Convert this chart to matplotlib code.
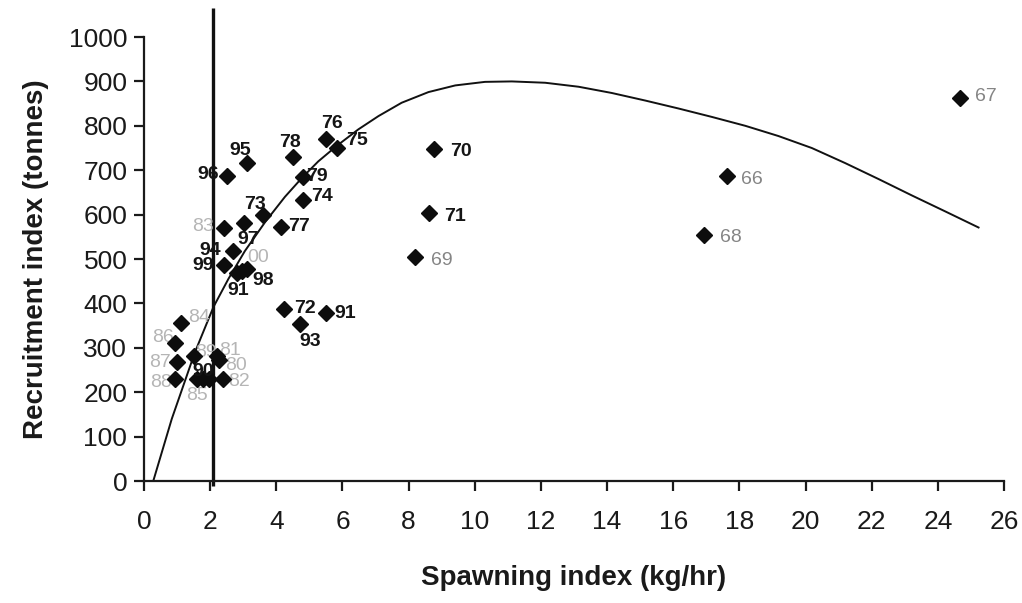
import matplotlib
matplotlib.use("Agg")
import matplotlib.pyplot as plt

plt.rcParams['font.family'] = ['Liberation Sans', 'DejaVu Sans']

# ---- data ----
spawning = [24.68, 17.62, 16.92, 8.78, 8.61, 8.20, 5.50, 5.83, 4.49, 3.10,
            2.52, 4.80, 4.80, 3.61, 4.14, 3.02, 2.42, 2.70, 2.42, 3.10,
            2.95, 2.80, 4.23, 5.50, 4.72, 1.11, 0.94, 0.99, 0.94, 1.52,
            2.22, 2.27, 1.59, 1.79, 1.98, 2.38]
recruit = [863, 686, 555, 747, 603, 504, 770, 751, 729, 717,
           687, 684, 634, 599, 573, 581, 569, 519, 486, 478,
           472, 468, 387, 378, 354, 355, 310, 267, 229, 281,
           281, 272, 229, 229, 229, 229]
year_labels = ['67', '66', '68', '70', '71', '69', '76', '75', '78', '95',
               '96', '79', '74', '73', '77', '97', '83', '94', '99', '00',
               '98', '91', '72', '91', '93', '84', '86', '87', '88', '89',
               '81', '80', '85', '90', '', '82']
label_group = ['mid', 'mid', 'mid', 'black', 'black', 'mid', 'black', 'black', 'black', 'black',
               'black', 'black', 'black', 'black', 'black', 'black', 'light', 'black', 'black', 'light',
               'black', 'black', 'black', 'black', 'black', 'light', 'light', 'light', 'light', 'light',
               'light', 'light', 'light', 'black', 'black', 'light']

curve_s = [0.28, 0.84, 1.54, 2.10, 2.55, 3.05, 3.66, 4.26, 4.79, 5.27, 5.83, 6.48,
           7.09, 7.79, 8.60, 9.41, 10.31, 11.12, 12.13, 13.14, 14.14, 15.15, 16.16,
           17.17, 18.18, 19.18, 20.19, 21.20, 22.21, 23.22, 24.23, 25.23]
curve_r = [0, 140, 290, 392, 455, 518, 583, 640, 684, 720, 755, 792,
           822, 852, 876, 891, 899, 900, 897, 888, 874, 857, 839,
           820, 800, 777, 750, 716, 680, 643, 607, 571]

threshold_s = 2.10

x_ticks = list(range(0, 27, 2))
y_ticks = list(range(0, 1001, 100))

# ---- label placement (pixel offsets from marker) ----
label_offsets = [(26, 1), (25, -3), (27, -3), (27, -2), (26, -3), (27, -3), (6, 16), (20, 7), (-3, 15), (-6, 12),
                 (-19, 1), (14, 1), (19, 3), (-8, 11), (18, 0), (4, -16), (-21, 2), (-23, 0), (-21, 0), (12, 11),
                 (22, -9), (2, -17), (21, 1), (19, 0), (10, -18), (18, 6), (-12, 6), (-17, 0), (-14, -3), (12, 4),
                 (13, 6), (17, -5), (0, -16), (0, 8), (0, 0), (16, -2)]
group_style = {
    'black': dict(color='#151515', fontweight='bold', fontsize=14),
    'light': dict(color='#b5b5b5', fontweight='normal', fontsize=14),
    'mid': dict(color='#858585', fontweight='normal', fontsize=14),
}

fig = plt.figure(figsize=(10.22, 6.03), dpi=100)
ax = fig.add_axes([0.1409, 0.2023, 0.8415, 0.7363])

ax.plot(curve_s, curve_r, color='#111111', lw=1.4, zorder=2)
ax.plot([threshold_s, threshold_s], [-12, 1065], color='#111111', lw=2.4,
        clip_on=False, zorder=2, solid_capstyle='butt')

ax.plot(spawning, recruit, linestyle='none', marker='D', markersize=8.5,
        color='#0d0d0d', zorder=4)

for s, r, lab, grp, off in zip(spawning, recruit, year_labels, label_group, label_offsets):
    if not lab:
        continue
    z = 5 if grp == 'black' else 3
    ax.annotate(lab, (s, r), xytext=off, textcoords='offset pixels',
                ha='center', va='center', zorder=z, **group_style[grp])

ax.set_xlim(0, 26)
ax.set_ylim(0, 1000)
ax.set_xticks(x_ticks)
ax.set_yticks(y_ticks)

for side in ('top', 'right'):
    ax.spines[side].set_visible(False)
for side in ('left', 'bottom'):
    ax.spines[side].set_linewidth(1.6)
    ax.spines[side].set_color('#1a1a1a')

ax.tick_params(axis='both', direction='out', length=7, width=1.6, color='#1a1a1a',
               labelsize=19, labelcolor='#1a1a1a')
ax.tick_params(axis='x', pad=14)
ax.tick_params(axis='y', pad=5)

ax.set_xlabel('Spawning index (kg/hr)', fontsize=20, fontweight='bold',
              color='#1a1a1a', labelpad=22)
ax.set_ylabel('Recruitment index (tonnes)', fontsize=20, fontweight='bold',
              color='#1a1a1a', labelpad=14)

fig.savefig('out.png', dpi=100)
